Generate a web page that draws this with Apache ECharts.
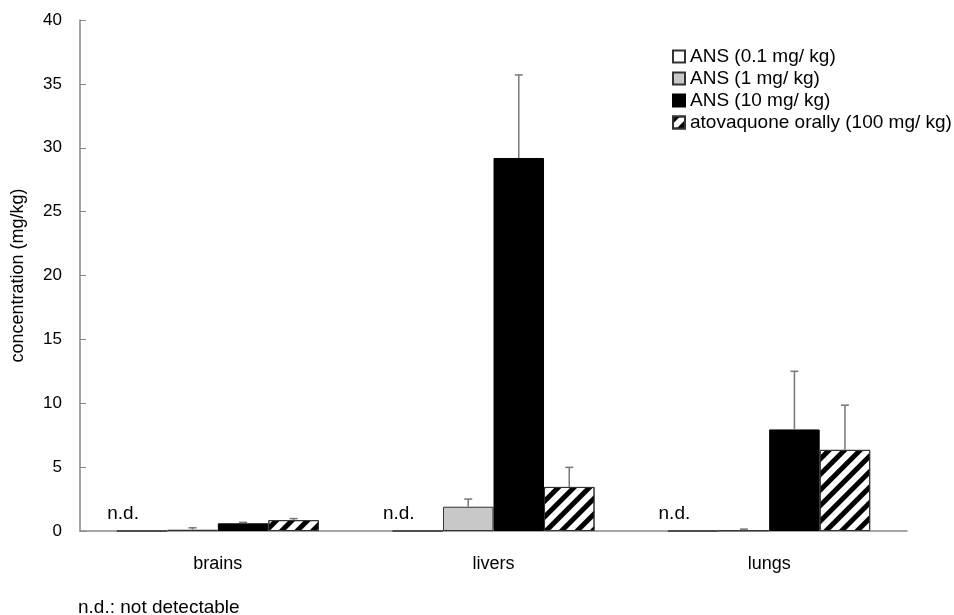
<!DOCTYPE html>
<html lang="en">
<head>
    <meta charset="UTF-8">
    <title>Concentration</title>
    <script src="https://cdn.jsdelivr.net/npm/echarts@6/dist/echarts.min.js"></script>
</head>
<body style="margin: 0; background: #fff">
<div id="main" style="width: 954px; height: 615px"></div>

<script>
    // data (mg/kg)
    const organs = ['brains', 'livers', 'lungs'];
    const seriesNames = ['ANS (0.1 mg/ kg)', 'ANS (1 mg/ kg)', 'ANS (10 mg/ kg)', 'atovaquone orally (100 mg/ kg)'];
    const ans01 = [0, 0, 0];            // n.d. everywhere
    const ans1 = [0.1, 1.9, 0.05];
    const ans10 = [0.6, 29.2, 7.95];
    const atova = [0.85, 3.45, 6.35];
    // upper end of the error bars
    const ans1Err = [0.25, 2.5, 0.15];
    const ans10Err = [0.68, 35.7, 12.5];
    const atovaErr = [0.97, 4.98, 9.85];

    const GAP = 0.267;
    const font = 'Liberation Sans, Arial, sans-serif';

    const errData = [];
    [[ans1, ans1Err, 1], [ans10, ans10Err, 2], [atova, atovaErr, 3]].forEach(function (s) {
        for (let i = 0; i < organs.length; i++) {
            errData.push([i, s[1][i], s[0][i], s[2]]);
        }
    });

    const chart = echarts.init(document.getElementById('main'));

    const hatch = {
        symbol: 'rect',
        symbolSize: 1,
        color: '#000',
        dashArrayX: [1, 0],
        dashArrayY: [5, 5.6],
        rotation: -Math.PI / 4
    };

    const option = {
        animation: false,
        textStyle: {fontFamily: font},
        grid: {left: 80, right: 47, top: 20, bottom: 84},
        legend: {
            orient: 'vertical',
            left: 667,
            top: 42,
            itemWidth: 12,
            itemHeight: 12,
            itemGap: 3,
            icon: 'rect',
            textStyle: {fontSize: 19, color: '#000', fontFamily: font},
            data: seriesNames
        },
        xAxis: {
            type: 'category',
            data: organs,
            axisLine: {lineStyle: {color: '#888', width: 1.5}},
            axisTick: {show: false},
            axisLabel: {fontSize: 18, color: '#000', margin: 24}
        },
        yAxis: {
            type: 'value',
            min: 0,
            max: 40,
            interval: 5,
            name: 'concentration (mg/kg)',
            nameLocation: 'middle',
            nameGap: 53,
            nameTextStyle: {fontSize: 18, color: '#000'},
            axisLine: {show: true, lineStyle: {color: '#888', width: 1.5}},
            axisTick: {show: true, inside: true, length: 6, lineStyle: {color: '#888'}},
            axisLabel: {fontSize: 17, color: '#000', margin: 18},
            splitLine: {show: false}
        },
        series: [
            {
                name: seriesNames[0],
                type: 'bar',
                data: ans01,
                barGap: 0,
                barCategoryGap: (GAP * 100) + '%',
                itemStyle: {color: '#fff', borderColor: '#333', borderWidth: 1},
                label: {
                    show: true,
                    position: 'top',
                    distance: 7,
                    offset: [-19, 0],
                    formatter: 'n.d.',
                    fontSize: 19,
                    color: '#000'
                }
            },
            {
                name: seriesNames[1],
                type: 'bar',
                data: ans1,
                barGap: 0,
                itemStyle: {color: '#c8c8c8', borderColor: '#333', borderWidth: 1}
            },
            {
                name: seriesNames[2],
                type: 'bar',
                data: ans10,
                barGap: 0,
                itemStyle: {color: '#000', borderColor: '#000', borderWidth: 1}
            },
            {
                name: seriesNames[3],
                type: 'bar',
                data: atova,
                barGap: 0,
                itemStyle: {color: '#fff', borderColor: '#333', borderWidth: 1, decal: hatch}
            },
            {
                type: 'custom',
                data: errData,
                z: 5,
                renderItem: function (params, api) {
                    const idx = api.value(0);
                    const band = api.size([1, 0])[0];
                    const groupW = band * (1 - GAP);
                    const barW = groupW / 4;
                    const cx = api.coord([idx, 0])[0] - groupW / 2 + barW * (api.value(3) + 0.5);
                    const yTop = api.coord([idx, api.value(1)])[1];
                    const yBar = api.coord([idx, api.value(2)])[1];
                    const st = {stroke: '#777', lineWidth: 1.5};
                    return {
                        type: 'group',
                        children: [
                            {type: 'line', shape: {x1: cx, y1: yBar, x2: cx, y2: yTop}, style: st},
                            {type: 'line', shape: {x1: cx - 4, y1: yTop, x2: cx + 4, y2: yTop}, style: st}
                        ]
                    };
                }
            }
        ],
        graphic: [
            {
                type: 'text',
                left: 78,
                top: 598,
                style: {text: 'n.d.: not detectable', fontSize: 19, fill: '#000', fontFamily: font}
            }
        ]
    };

    chart.setOption(option);
</script>
</body>
</html>
